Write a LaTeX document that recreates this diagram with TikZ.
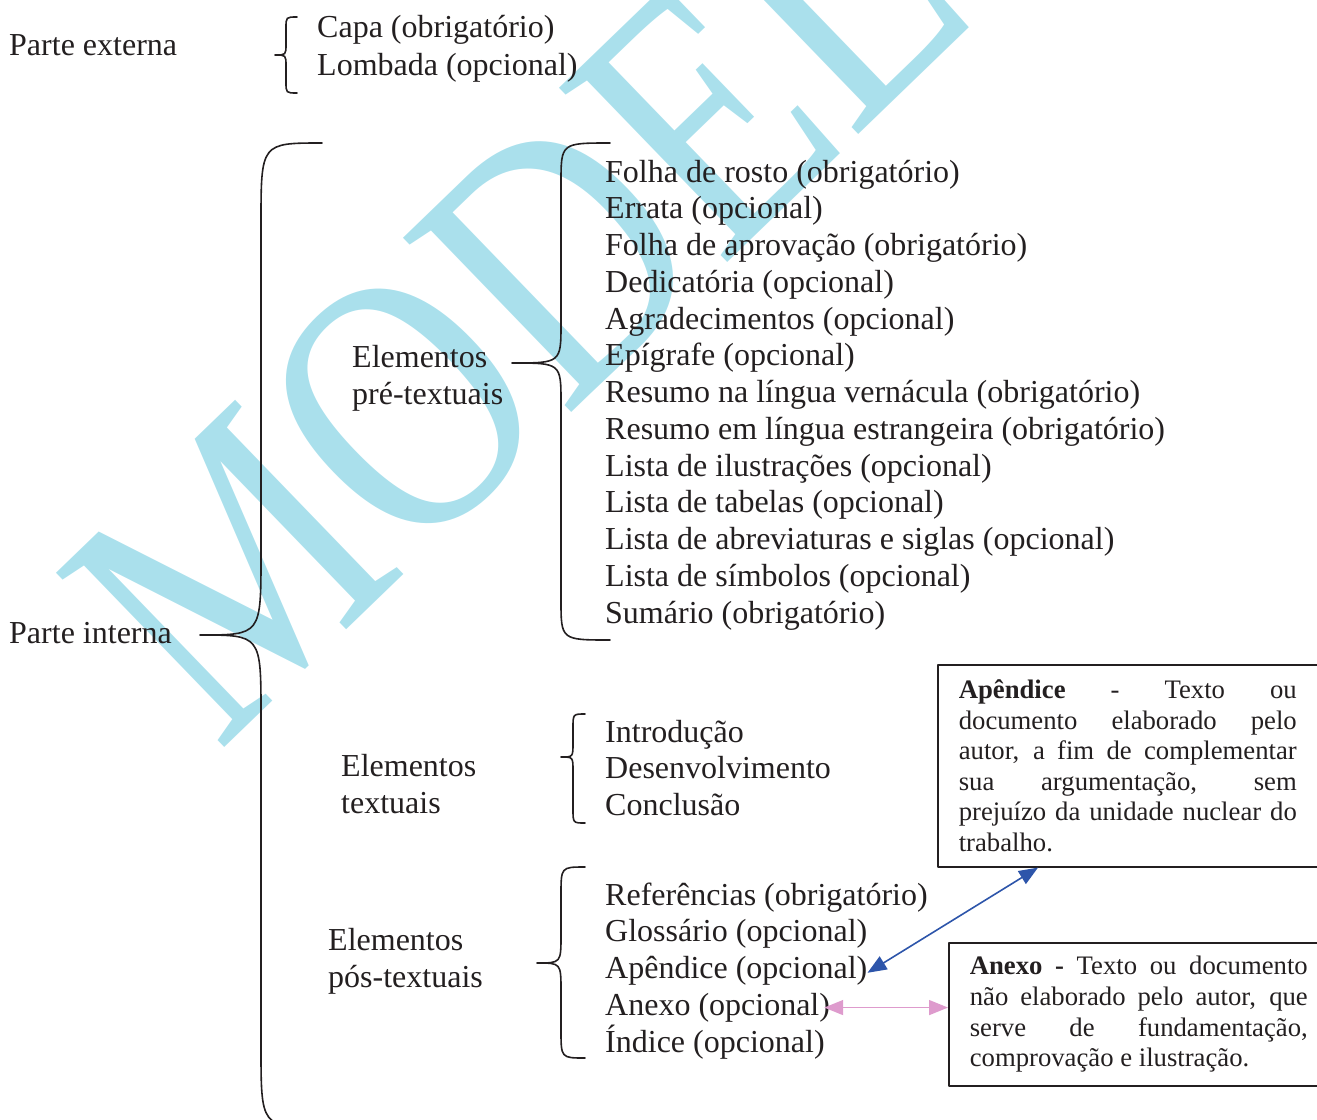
\documentclass[tikz,border=0pt]{standalone}
\usepackage{fontspec}
\setmainfont{Liberation Serif}
\usetikzlibrary{arrows.meta}
\definecolor{marca}{RGB}{170,224,236}
\definecolor{azul}{RGB}{45,85,170}
\definecolor{rosa}{RGB}{222,155,205}
\definecolor{tinta}{RGB}{35,31,32}
\tolerance=10000 \hyphenpenalty=10000
% chave: x da haste, topo, ponta, base, largura, raio
\newcommand{\chave}[6]{%
  \draw ({#1+#5},#2) .. controls (#1,#2) .. (#1,{#2+#6}) -- (#1,{#3-#6})
    .. controls (#1,#3) .. ({#1-#5},#3) .. controls (#1,#3) .. (#1,{#3+#6})
    -- (#1,{#4-#6}) .. controls (#1,#4) .. ({#1+#5},#4);}
\begin{document}
\begin{tikzpicture}[x=1pt,y=-1pt,line cap=round,line join=round,
  font=\fontsize{32}{36.75}\selectfont,text=tinta,
  item/.style={anchor=base west,inner sep=0pt},
  grupo/.style={anchor=north west,inner sep=0pt,align=left},
  caixa/.style={draw=tinta,line width=1.6pt,anchor=north west,align=justify,
    text width=338pt,inner xsep=21pt,font=\fontsize{26.7}{30.6}\selectfont},
  seta/.style={line width=1.6pt,
    {Triangle[length=19pt,width=15pt]}-{Triangle[length=19pt,width=15pt]}}]
\useasboundingbox (0,0) rectangle (1317,1119);
% marca d'agua
\node[anchor=base west,inner sep=0pt,rotate=44,xscale=0.81,text=marca,
  font=\fontsize{370}{370}\selectfont] (modelo) at (218,754) {MODELO};
%Parte externa
\node[item] (externa) at (9,55) {Parte externa};
\node[item] (capa) at (317,37) {Capa (obrigatório)};
\node[item] (lombada) at (317,75) {Lombada (opcional)};
%Parte interna
\node[item] (interna) at (9,643) {Parte interna};
\node[grupo] (pre) at (352,345) {Elementos\\pré-textuais};
\node[grupo] (txt) at (341,754) {Elementos\\textuais};
\node[grupo] (pos) at (328,928) {Elementos\\pós-textuais};
\foreach \t [count=\i from 0] in {Folha de rosto (obrigatório),Errata (opcional),
  Folha de aprovação (obrigatório),Dedicatória (opcional),Agradecimentos (opcional),
  Epígrafe (opcional),Resumo na língua vernácula (obrigatório),
  Resumo em língua estrangeira (obrigatório),Lista de ilustrações (opcional),
  Lista de tabelas (opcional),Lista de abreviaturas e siglas (opcional),
  Lista de símbolos (opcional),Sumário (obrigatório)}
  \node[item] (pre\i) at (605,{182+36.75*\i}) {\t};
\foreach \t [count=\i from 0] in {Introdução,Desenvolvimento,Conclusão}
  \node[item] (txt\i) at (605,{742+36.5*\i}) {\t};
\foreach \t [count=\i from 0] in {Referências (obrigatório),Glossário (opcional),
  Apêndice (opcional),Anexo (opcional),Índice (opcional)}
  \node[item] (pos\i) at (605,{905+36.75*\i}) {\t};
%chaves
\begin{scope}[line width=1.6pt,draw=tinta]
\chave{286}{17}{55}{93}{11}{11}
\chave{261}{143}{635}{1127}{61}{80}
\chave{561}{143}{363}{640}{49}{40}
\chave{573}{714}{757}{823}{12}{14}
\chave{561}{867}{963}{1058}{24}{28}
\end{scope}
%caixas
\node[caixa,minimum height=202pt] (apendice) at (937,664)
  {\textbf{Apêndice} - Texto ou\linebreak documento elaborado pelo\linebreak
   autor, a fim de complementar\linebreak sua argumentação, sem\linebreak
   prejuízo da unidade nuclear do\linebreak trabalho.};
\node[caixa,minimum height=143pt] (anexo) at (948,942)
  {\textbf{Anexo -} Texto ou documento\linebreak não elaborado pelo autor, que\linebreak
   serve de fundamentação,\linebreak comprovação e ilustração.};
\draw[seta,azul] ([yshift=-2pt]pos2.east) -- ([xshift=101pt]apendice.south west);
\draw[seta,rosa] ([xshift=-6pt]pos3.east) -- (pos3.east -| anexo.west);
\end{tikzpicture}
\end{document}
